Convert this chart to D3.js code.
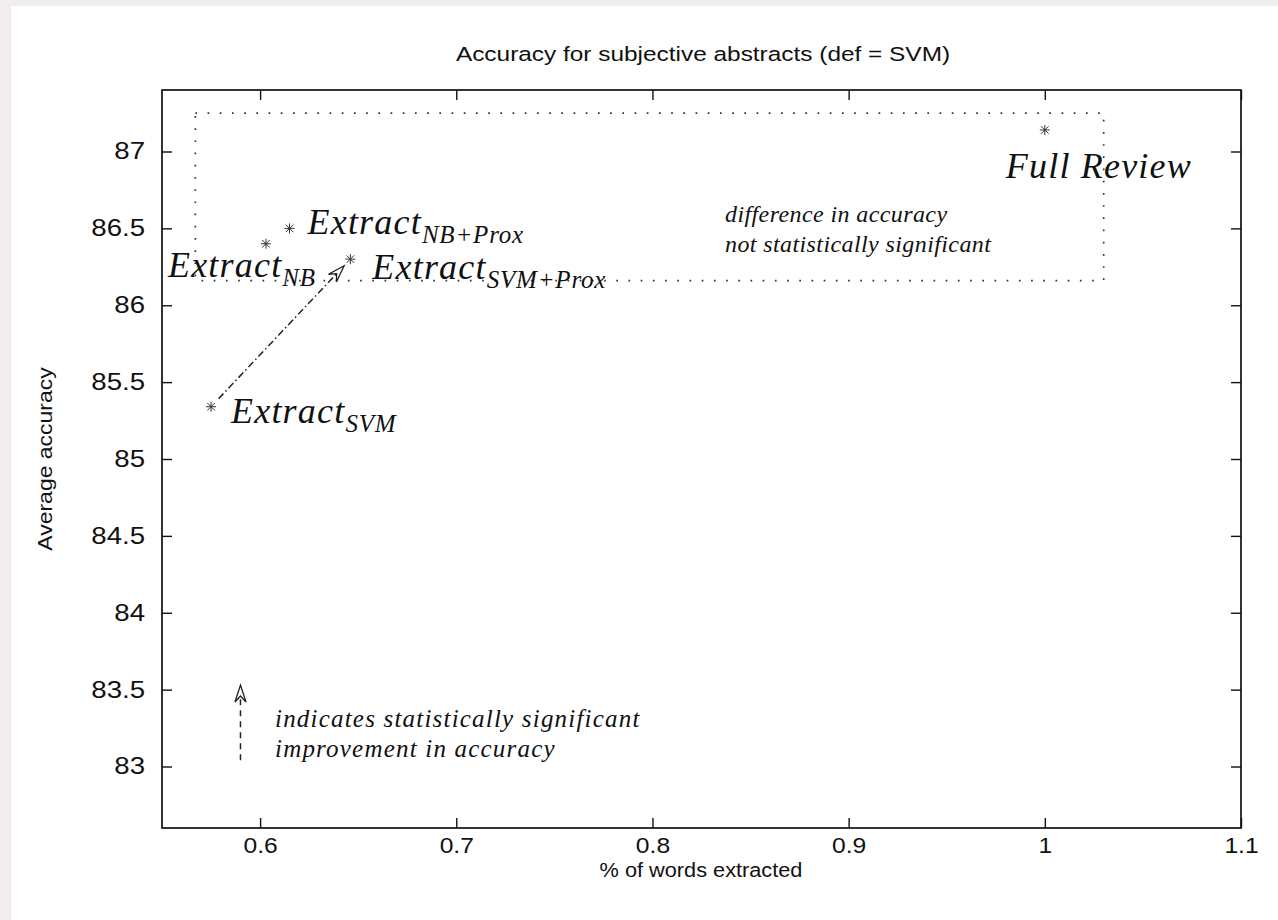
<!DOCTYPE html>
<html>
<head>
<meta charset="utf-8">
<script src="https://cdn.jsdelivr.net/npm/d3@7"></script>
<style>
    body { margin: 0; background: #f2eded; }
    .tick text { font-family: "Liberation Sans", Arial, sans-serif; font-size: 23px; fill: #111; }
    .xaxis .tick text { font-size: 22px; }
    .sans { font-family: "Liberation Sans", Arial, sans-serif; fill: #111; }
    .serif { font-family: "Liberation Serif", "Times New Roman", serif; font-style: italic; fill: #111; }
</style>
</head>
<body>
<div id="chart"></div>
<script>

    // points
    var pointNames = ["Extract", "Extract", "Extract", "Extract", "Full Review"];
    var pointSubs = ["SVM", "NB", "NB+Prox", "SVM+Prox", ""];
    var wordsExtracted = [0.575, 0.603, 0.615, 0.646, 1.0];
    var avgAccuracy = [85.34, 86.40, 86.50, 86.30, 87.14];

    // axes
    var xTicks = [0.6, 0.7, 0.8, 0.9, 1, 1.1];
    var xTickLabels = ["0.6", "0.7", "0.8", "0.9", "1", "1.1"];
    var yTicks = [83, 83.5, 84, 84.5, 85, 85.5, 86, 86.5, 87];
    var yTickLabels = ["83", "83.5", "84", "84.5", "85", "85.5", "86", "86.5", "87"];

    // not-significant box (x0, x1, y0, y1)
    var boxX = [0.567, 1.03];
    var boxY = [86.16, 87.25];

    // significant improvement arrow: from Extract_SVM to Extract_SVM+Prox
    var arrowFrom = 0;
    var arrowTo = 3;

    // legend arrow
    var legendArrowX = [0.59, 0.59];
    var legendArrowY = [83.04, 83.53];

    var title = "Accuracy for subjective abstracts (def = SVM)";
    var xLabel = "% of words extracted";
    var yLabel = "Average accuracy";
    var boxNote = ["difference in accuracy", "not statistically significant"];
    var arrowNote = ["indicates statistically significant", "improvement in accuracy"];


    var width = 1278;
    var height = 920;
    var margin = {left: 162, right: 37, top: 90, bottom: 92};

    var svg = d3.select("#chart")
        .append("svg")
        .attr("width", width)
        .attr("height", height)
        .style("display", "block");

    svg.append("rect")
        .attr("x", 11)
        .attr("y", 6)
        .attr("width", width - 11)
        .attr("height", height - 6)
        .attr("fill", "#fff");

    var x = d3.scaleLinear()
        .domain([0.55, 1.1])
        .range([margin.left, width - margin.right]);

    var y = d3.scaleLinear()
        .domain([82.6, 87.4])
        .range([height - margin.bottom, margin.top]);

    // the original fonts are a bit wider than Liberation, stretch them
    function stretch(sel, k) {
        sel.each(function() {
            var len = this.getComputedTextLength();
            d3.select(this)
                .attr("textLength", len * k)
                .attr("lengthAdjust", "spacingAndGlyphs");
        });
    }


    // axes, ticks pointing inwards like gnuplot
    svg.append("g")
        .attr("class", "xaxis")
        .attr("transform", "translate(0," + y.range()[0] + ")")
        .call(d3.axisBottom(x).tickValues(xTicks).tickSizeInner(-10).tickSizeOuter(0).tickPadding(9)
            .tickFormat(function(d, i) { return xTickLabels[i]; }));

    svg.append("g")
        .attr("transform", "translate(0," + y.range()[1] + ")")
        .call(d3.axisTop(x).tickValues(xTicks).tickSizeInner(-10).tickSizeOuter(0).tickFormat(""));

    svg.append("g")
        .attr("class", "yaxis")
        .attr("transform", "translate(" + x.range()[0] + ",0)")
        .call(d3.axisLeft(y).tickValues(yTicks).tickSizeInner(-10).tickSizeOuter(0).tickPadding(17)
            .tickFormat(function(d, i) { return yTickLabels[i]; }));

    svg.append("g")
        .attr("transform", "translate(" + x.range()[1] + ",0)")
        .call(d3.axisRight(y).tickValues(yTicks).tickSizeInner(-10).tickSizeOuter(0).tickFormat(""));

    svg.selectAll(".domain").remove();
    svg.selectAll(".tick line").attr("stroke", "#111").attr("stroke-width", 1.4);
    stretch(svg.selectAll(".xaxis .tick text"), 1.12);
    stretch(svg.selectAll(".yaxis .tick text"), 1.2);

    svg.append("rect")
        .attr("x", x.range()[0])
        .attr("y", y.range()[1])
        .attr("width", x.range()[1] - x.range()[0])
        .attr("height", y.range()[0] - y.range()[1])
        .attr("fill", "none")
        .attr("stroke", "#111")
        .attr("stroke-width", 1.7);


    // titles
    svg.append("text")
        .attr("class", "sans")
        .attr("x", 703)
        .attr("y", 61)
        .attr("text-anchor", "middle")
        .style("font-size", "20.5px")
        .text(title)
        .call(stretch, 1.19);

    svg.append("text")
        .attr("class", "sans")
        .attr("x", 701)
        .attr("y", 877)
        .attr("text-anchor", "middle")
        .style("font-size", "20.5px")
        .text(xLabel)
        .call(stretch, 1.06);

    svg.append("text")
        .attr("class", "sans")
        .attr("transform", "translate(52," + 459 + ") rotate(-90)")
        .attr("text-anchor", "middle")
        .style("font-size", "20.5px")
        .text(yLabel)
        .call(stretch, 1.12);


    // dotted box
    svg.append("rect")
        .attr("x", x(boxX[0]))
        .attr("y", y(boxY[1]))
        .attr("width", x(boxX[1]) - x(boxX[0]))
        .attr("height", y(boxY[0]) - y(boxY[1]))
        .attr("fill", "none")
        .attr("stroke", "#333")
        .attr("stroke-width", 1.7)
        .attr("stroke-dasharray", "1.7,10.5");

    svg.selectAll(".boxNote")
        .data(boxNote)
        .enter()
        .append("text")
        .attr("class", "serif boxNote")
        .attr("x", 725)
        .attr("y", function(d, i) { return 222 + i * 30; })
        .style("font-size", "24px")
        .style("letter-spacing", "0.4px")
        .text(function(d) { return d; });


    // arrows
    function drawArrow(x1, y1, x2, y2, dash) {
        var ang = Math.atan2(y2 - y1, x2 - x1);
        var len = 17, half = 5.5, notch = 11;
        var bx = x2 - Math.cos(ang) * notch, by = y2 - Math.sin(ang) * notch;
        svg.append("line")
            .attr("x1", x1).attr("y1", y1)
            .attr("x2", bx).attr("y2", by)
            .attr("stroke", "#222")
            .attr("stroke-width", 1.5)
            .attr("stroke-dasharray", dash);
        var cx = x2 - Math.cos(ang) * len, cy = y2 - Math.sin(ang) * len;
        var px = -Math.sin(ang) * half, py = Math.cos(ang) * half;
        var pts = [[x2, y2], [cx + px, cy + py], [bx, by], [cx - px, cy - py]];
        svg.append("path")
            .attr("d", "M" + pts.join("L") + "Z")
            .attr("fill", "#fff")
            .attr("stroke", "#222")
            .attr("stroke-width", 1.3);
    }

    var ax1 = x(wordsExtracted[arrowFrom]), ay1 = y(avgAccuracy[arrowFrom]);
    var ax2 = x(wordsExtracted[arrowTo]), ay2 = y(avgAccuracy[arrowTo]);
    var aAng = Math.atan2(ay2 - ay1, ax2 - ax1);
    drawArrow(ax1 + Math.cos(aAng) * 11, ay1 + Math.sin(aAng) * 11,
              ax2 - Math.cos(aAng) * 9, ay2 - Math.sin(aAng) * 9, "7,3,1.5,3");

    drawArrow(x(legendArrowX[0]), y(legendArrowY[0]), x(legendArrowX[1]), y(legendArrowY[1]), "6,5");

    svg.selectAll(".arrowNote")
        .data(arrowNote)
        .enter()
        .append("text")
        .attr("class", "serif arrowNote")
        .attr("x", 275)
        .attr("y", function(d, i) { return 727 + i * 30; })
        .style("font-size", "25px")
        .style("letter-spacing", "1.2px")
        .text(function(d) { return d; });


    // star points
    var starSize = 5;
    svg.selectAll(".pt")
        .data(wordsExtracted)
        .enter()
        .append("path")
        .attr("class", "pt")
        .attr("transform", function(d, i) { return "translate(" + x(d) + "," + y(avgAccuracy[i]) + ")"; })
        .attr("d", function() {
            var s = starSize, t = s * 0.75;
            return "M" + (-s) + ",0L" + s + ",0M0," + (-s) + "L0," + s +
                "M" + (-t) + "," + (-t) + "L" + t + "," + t + "M" + (-t) + "," + t + "L" + t + "," + (-t);
        })
        .attr("stroke", "#333")
        .attr("stroke-width", 1);


    // point labels, offsets from the point in pixels
    var labelOffset = [[20, 16], [-98, 33], [18, 6], [22, 20], [-39, 48]];

    var labels = svg.selectAll(".ptLabel")
        .data(pointNames)
        .enter()
        .append("text")
        .attr("class", "serif ptLabel")
        .attr("x", function(d, i) { return x(wordsExtracted[i]) + labelOffset[i][0]; })
        .attr("y", function(d, i) { return y(avgAccuracy[i]) + labelOffset[i][1]; })
        .style("font-size", "36px")
        .style("letter-spacing", "1.2px");

    labels.append("tspan")
        .text(function(d) { return d; });

    labels.append("tspan")
        .attr("dy", 9)
        .style("font-size", "25px")
        .style("letter-spacing", "0.8px")
        .text(function(d, i) { return pointSubs[i]; });

</script>
</body>
</html>
